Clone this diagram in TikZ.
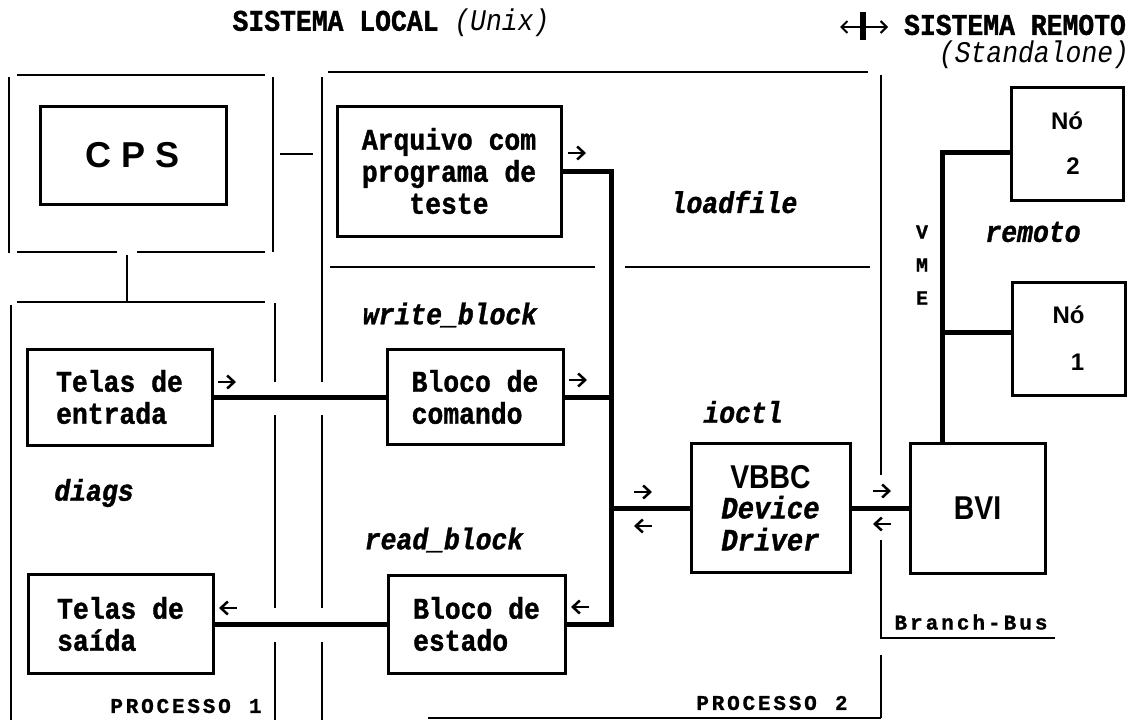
\documentclass[tikz,border=0pt]{standalone}
\usepackage{fontspec}
\usetikzlibrary{arrows.meta}
\newfontfamily\mono{Liberation Mono}[FakeStretch=0.88,BoldFeatures={FakeBold=1.2},BoldItalicFeatures={FakeBold=1.2}]
\newfontfamily\monos{Liberation Mono}[BoldFeatures={FakeBold=1},BoldItalicFeatures={FakeBold=1}]
\newfontfamily\sansf{Liberation Sans}
\newfontfamily\sansn{Liberation Sans}[FakeStretch=0.86]
\makeatletter
\newcommand\spacedout[2]{\def\sp@k{#1}\@tfor\sp@c:=#2\do{\sp@c\kern\sp@k}\unkern}
\makeatother
\begin{document}
\begin{tikzpicture}[x=1pt,y=-1pt,
  frm/.style={line width=2pt},
  blk/.style={draw,line width=3pt,inner sep=0pt,font=\mono\bfseries\fontsize{30}{32}\selectfont},
  bus/.style={line width=5pt},
  lbl/.style={inner sep=0pt,font=\mono\bfseries\itshape\fontsize{30}{32}\selectfont},
  ttl/.style={inner sep=0pt,font=\mono\bfseries\fontsize{30}{32}\selectfont},
  arrw/.style={line width=2.5pt,-{Straight Barb[length=7pt,width=13pt]}},
  spc/.style={inner sep=0pt,font=\monos\bfseries\fontsize{21}{24}\selectfont},
  vme/.style={inner sep=0pt,font=\monos\bfseries\fontsize{20}{24}\selectfont},
]
\useasboundingbox (0,0) rectangle (1137,720);
% frames
\draw[frm] (17,75) -- (265,75);
\draw[frm] (9,77) -- (9,253);
\draw[frm] (273,77) -- (273,252);
\draw[frm] (17,252) -- (117,252);
\draw[frm] (137,252) -- (265,252);
\draw[frm] (127,255) -- (127,302);
\draw[frm] (280,154) -- (313,154);
\draw[frm] (17,302) -- (265,302);
\draw[frm] (11,305) -- (11,720);
\draw[frm] (275,303) -- (275,382);
\draw[frm] (275,415) -- (275,608);
\draw[frm] (275,642) -- (275,720);
\draw[frm] (322,77) -- (322,382);
\draw[frm] (322,415) -- (322,608);
\draw[frm] (322,642) -- (322,720);
\draw[frm] (328,72) -- (868,72);
\draw[frm] (881,75) -- (881,475);
\draw[frm] (881,540) -- (881,638) -- (1055,638);
\draw[frm] (881,655) -- (881,718);
\draw[frm] (428,718) -- (881,718);
\draw[frm] (330,267) -- (595,267);
\draw[frm] (625,267) -- (870,267);
% titles
\node[ttl] (t1) at (391,23) {SISTEMA LOCAL {\mdseries\itshape(Unix)}};
\node[ttl] (t2) at (1015,25) {SISTEMA REMOTO};
\node[ttl] (t3) at (1034,55) {\mdseries\itshape(Standalone)};
\coordinate (sl) at (840,27);
\coordinate (sr) at (888,27);
\draw[line width=2pt,{Straight Barb[length=6pt,width=12pt]}-{Straight Barb[length=6pt,width=12pt]}] (sl) -- (sr);
\draw[line width=6pt] (863,12) -- (863,40);
% boxes
\node[blk,minimum width=186pt,minimum height=98pt,font=\sansf\bfseries\fontsize{36}{40}\selectfont] (cps) at (133,155) {C P S};
\node[blk,minimum width=224pt,minimum height=130pt,align=center] (arq) at (449,171) {Arquivo com\\programa de\\teste};
\node[blk,minimum width=185pt,minimum height=96pt,align=left] (ent) at (119.5,397) {Telas de\\entrada};
\node[blk,minimum width=185pt,minimum height=99pt,align=left] (sai) at (120.5,624) {Telas de\\sa\'{\i}da};
\node[blk,minimum width=176pt,minimum height=95pt,align=left] (com) at (475,397) {Bloco de\\comando};
\node[blk,minimum width=177pt,minimum height=98pt,align=left] (est) at (476.5,624) {Bloco de\\estado};
\node[blk,minimum width=159pt,minimum height=129pt,align=center] (vbbc) at (770.5,508)
  {{\sansn\bfseries\fontsize{33}{26}\selectfont VBBC}\\[-2pt]{\itshape\fontsize{31}{28}\selectfont Device}\\{\itshape\fontsize{31}{28}\selectfont Driver}};
\node[blk,minimum width=135pt,minimum height=130pt,font=\sansn\bfseries\fontsize{33}{34}\selectfont] (bvi) at (977.5,508) {BVI};
\node[blk,minimum width=112pt,minimum height=113pt,align=center,font=\sansf\bfseries\fontsize{24}{45}\selectfont] (no2) at (1067,143.5) {N\'o\\\hspace*{12pt}2};
\node[blk,minimum width=113pt,minimum height=113pt,align=center,font=\sansf\bfseries\fontsize{24}{47}\selectfont] (no1) at (1068.5,338.5) {N\'o\\\hspace*{18pt}1};
% buses
\coordinate (btop) at (611,171);
\coordinate (bbot) at (611,624);
\coordinate (vtop) at (942,152);
\coordinate (vno1) at (942,332);
\draw[bus] (ent.east) -- (com.west);
\draw[bus] (sai.east) -- (est.west);
\draw[bus] (arq.east) -- (btop) -- (bbot) -- (est.east);
\draw[bus] (com.east) -- (com.east -| btop);
\draw[bus] (btop |- vbbc.west) -- (vbbc.west);
\draw[bus] (vbbc.east) -- (bvi.west);
\draw[bus] (vtop |- bvi.north) -- (vtop) -- (vtop -| no2.west);
\draw[bus] (vno1) -- (vno1 -| no1.west);
% direction arrows
\foreach \n/\x/\y/\d in {a1/577/153/1, a2/227/382/1, a3/578/380/1, a4/228/608/-1, a5/580/607/-1,
    a6/643/492/1, a7/643/526/-1, a8/882/491/1, a9/882/524/-1}{
  \coordinate (\n s) at ({\x-9*\d},\y);
  \coordinate (\n e) at ({\x+9*\d},\y);
  \draw[arrw] (\n s) -- (\n e);
}
% labels
\node[lbl] (lf) at (734,202) {loadfile};
\node[lbl] (rm) at (1033,232) {remoto};
\node[lbl] (wb) at (450,315) {write\_block};
\node[lbl] (io) at (743,412) {ioctl};
\node[lbl] (dg) at (94,493) {diags};
\node[lbl] (rb) at (444,540) {read\_block};
\node[spc] (p1) at (186,706) {\spacedout{2.8pt}{PROCESSO{\ }1}};
\node[spc] (p2) at (772,703) {\spacedout{2.8pt}{PROCESSO{\ }2}};
\node[spc] (bb) at (971,622) {\spacedout{3pt}{Branch-Bus}};
\node[vme] (v) at (922,232) {V};
\node[vme] (m) at (922,265) {M};
\node[vme] (e) at (922,298) {E};
\end{tikzpicture}
\end{document}
